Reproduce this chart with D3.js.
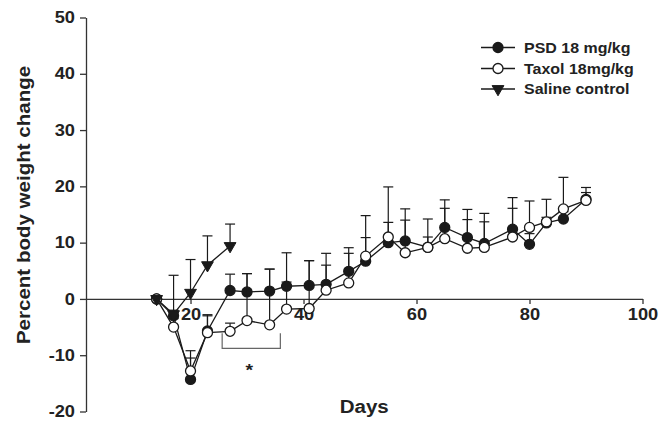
<!DOCTYPE html>
<html>
<head>
<meta charset="utf-8">
<script src="https://cdn.jsdelivr.net/npm/d3@7"></script>
<style>
  html, body { margin: 0; padding: 0; background: #fff; }
  svg { display: block; }
  text { font-family: "Liberation Sans", Arial, sans-serif; font-weight: bold; fill: #222; }
</style>
</head>
<body>
<svg id="chart" width="672" height="425"></svg>
<script>
// ---- data ----
const days = [14,17,20,23,27,30,34,37,41,44,48,51,55,58,62,65,69,72,77,80,83,86,90];
const psd = [0,-3.0,-14.3,-5.7,1.5,1.25,1.4,2.25,2.4,2.6,4.9,6.7,10.0,10.3,9.2,12.7,10.9,9.85,12.4,9.7,13.5,14.2,17.7];
const psdErr = [0,1.0,5.1,2.9,2.9,3.25,3.9,5.95,4.4,5.5,4.2,4.2,3.6,5.7,5.0,4.9,5.0,5.35,5.6,1.9,1.0,1.3,1.2];
const taxol = [0,-5.0,-12.8,-6.0,-5.75,-3.85,-4.6,-1.8,-1.7,1.55,2.85,7.6,11.0,8.2,9.15,10.7,9.0,9.15,11.0,12.7,13.7,16.0,17.5];
const taxolErr = [0,1.5,2.3,3.0,1.45,8.35,9.9,4.8,8.5,4.45,5.25,7.2,8.9,5.8,1.85,5.4,5.1,4.55,5.1,4.7,4.0,5.6,2.3];
const salineDays = [14,17,20,23,27];
const saline = [0,-2.7,1.1,6.0,9.4];
const salineErr = [0,6.9,5.9,5.2,3.9];
const seriesNames = ["PSD 18 mg/kg","Taxol 18mg/kg","Saline control"];
const xTicks = [20,40,60,80,100];
const yTicks = [-20,-10,0,10,20,30,40,50];
const xTitle = "Days";
const yTitle = "Percent body weight change";
// significance bracket (data units)
const bracketX = [25.6, 35.9];
const bracketY = [-6.1, -8.8];
const starPos = [30.4, -12.2];

// ---- layout ----
const svg = d3.select("#chart");
const x = d3.scaleLinear().domain([1.5, 100]).range([86, 642.5]);
const y = d3.scaleLinear().domain([-20, 50]).range([411.5, 17.5]);
const ink = "#1a1a1a";
const STRETCH = 1.14;

function widen(sel) {
  sel.each(function() {
    const w = this.getComputedTextLength();
    if (w > 0) {
      this.setAttribute("textLength", (w * STRETCH).toFixed(2));
      this.setAttribute("lengthAdjust", "spacingAndGlyphs");
    }
  });
}

// Y axis
const yAxis = svg.append("g")
  .attr("transform", `translate(${x(1.5)},0)`)
  .call(d3.axisLeft(y).tickValues(yTicks).tickSize(6).tickSizeOuter(0).tickPadding(5).tickFormat(d => String(d)));
yAxis.selectAll("path,line").attr("stroke", "#333").attr("stroke-width", 1.3);
yAxis.selectAll("text").style("font-size", "16px").attr("fill", "#222")
  .style("font-family", '"Liberation Sans", Arial, sans-serif').style("font-weight", "bold");

// X axis at y = 0
const xAxis = svg.append("g")
  .attr("transform", `translate(0,${y(0)})`)
  .call(d3.axisBottom(x).tickValues(xTicks).tickSize(5).tickSizeOuter(0).tickPadding(5).tickFormat(d => String(d)));
xAxis.selectAll("path,line").attr("stroke", "#333").attr("stroke-width", 1.3);
xAxis.selectAll("text").style("font-size", "16px").attr("fill", "#222")
  .style("font-family", '"Liberation Sans", Arial, sans-serif').style("font-weight", "bold");

// axis titles
svg.append("text").attr("class", "xt")
  .attr("x", (x(1.5) + x(100)) / 2).attr("y", 413)
  .attr("text-anchor", "middle").style("font-size", "18px").text(xTitle);
svg.append("text").attr("class", "yt")
  .attr("transform", `translate(30,205) rotate(-90)`)
  .attr("text-anchor", "middle").style("font-size", "18px").text(yTitle);

// bracket and star
svg.append("path")
  .attr("d", `M${x(bracketX[0])},${y(bracketY[0])}V${y(bracketY[1])}H${x(bracketX[1])}V${y(bracketY[0])}`)
  .attr("fill", "none").attr("stroke", "#666").attr("stroke-width", 1.2);
svg.append("text").attr("x", x(starPos[0])).attr("y", y(starPos[1]) + 8)
  .attr("text-anchor", "middle").style("font-size", "17px").text("*");

// ---- series ----
function build(dx, vals, errs) {
  return dx.map((d, i) => ({ d, v: vals[i], e: errs[i] }));
}
const series = [
  { name: seriesNames[0], data: build(days, psd, psdErr), marker: "filled" },
  { name: seriesNames[1], data: build(days, taxol, taxolErr), marker: "open" },
  { name: seriesNames[2], data: build(salineDays, saline, salineErr), marker: "tri" }
];
const tri = d3.symbol().type(d3.symbolTriangle).size(60);

function drawMarker(g, type, cx, cy) {
  if (type === "tri") {
    g.append("path").attr("d", tri())
      .attr("transform", `translate(${cx},${cy}) rotate(180)`)
      .attr("fill", ink).attr("stroke", ink).attr("stroke-width", 1);
  } else {
    g.append("circle").attr("cx", cx).attr("cy", cy).attr("r", 5)
      .attr("fill", type === "filled" ? ink : "#fff")
      .attr("stroke", ink).attr("stroke-width", 1.3);
  }
}

const line = d3.line().x(p => x(p.d)).y(p => y(p.v));
series.forEach(s => {
  const g = svg.append("g");
  // error bars (upper only)
  s.data.filter(p => p.e > 0).forEach(p => {
    const cx = x(p.d), y0 = y(p.v), y1 = y(p.v + p.e);
    g.append("line").attr("x1", cx).attr("x2", cx).attr("y1", y0).attr("y2", y1)
      .attr("stroke", ink).attr("stroke-width", 1.2);
    g.append("line").attr("x1", cx - 5).attr("x2", cx + 5).attr("y1", y1).attr("y2", y1)
      .attr("stroke", ink).attr("stroke-width", 1.2);
  });
  g.append("path").attr("d", line(s.data)).attr("fill", "none")
    .attr("stroke", ink).attr("stroke-width", 1.3);
  s.data.forEach(p => drawMarker(g, s.marker, x(p.d), y(p.v)));
});

// ---- legend ----
const legendRows = [47.5, 68.5, 89];
series.forEach((s, i) => {
  const g = svg.append("g");
  const ly = legendRows[i];
  g.append("line").attr("x1", 481).attr("x2", 515).attr("y1", ly).attr("y2", ly)
    .attr("stroke", ink).attr("stroke-width", 1.3);
  drawMarker(g, s.marker, 498, ly);
  g.append("text").attr("x", 524).attr("y", ly + 5).style("font-size", "14px").text(s.name);
});

widen(svg.selectAll("text"));
</script>
</body>
</html>
